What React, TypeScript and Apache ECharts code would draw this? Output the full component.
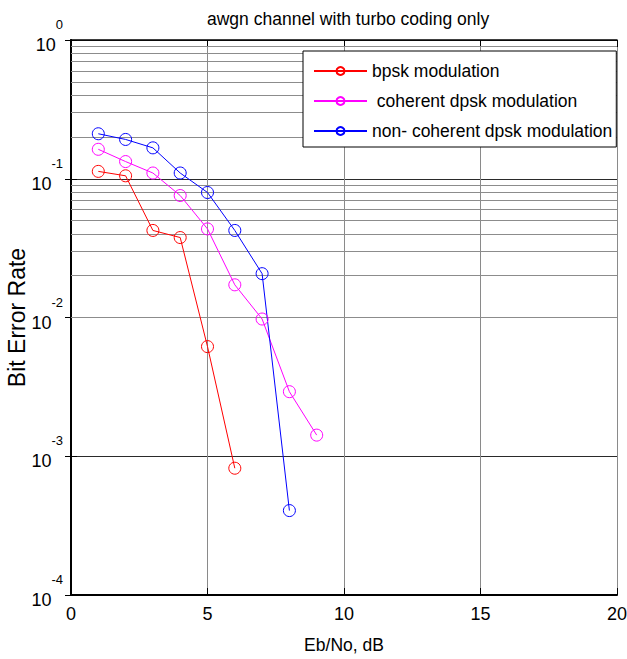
import React, { useEffect, useRef } from "react";
import * as echarts from "echarts";

// ---- data ----
const ebNo = [1, 2, 3, 4, 5, 6, 7, 8, 9];
const bpsk = [0.113, 0.105, 0.0424, 0.0377, 0.00617, 0.00082];
const coherentDpsk = [0.163, 0.133, 0.11, 0.0757, 0.0435, 0.0172, 0.00975, 0.00292, 0.00142];
const nonCoherentDpsk = [0.211, 0.192, 0.167, 0.11, 0.0796, 0.0424, 0.0207, 0.000406];
const seriesNames = ["bpsk modulation", " coherent dpsk modulation", "non- coherent dpsk modulation"];
const seriesColors = ["#ff0000", "#ff00ff", "#0000ff"];
const minorMantissas = [2, 3, 4, 5, 6, 7, 8, 9];
const minorDecades = [-4, -3, -2, -1];
const titleText = "awgn channel with turbo coding only";
const xName = "Eb/No, dB";
const yName = "Bit Error Rate";

const FONT = "Liberation Sans, Arial, sans-serif";

export default function App() {
  const ref = useRef<HTMLDivElement>(null);
  useEffect(() => {
    const chart = echarts.init(ref.current!, null, { renderer: "svg" });
    const allSeries = [bpsk, coherentDpsk, nonCoherentDpsk];
    const minorLines: any[] = [];
    minorDecades.forEach((e) =>
      minorMantissas.forEach((m) => minorLines.push({ yAxis: m * Math.pow(10, e) }))
    );
    const option: any = {
      animation: false,
      backgroundColor: "#fff",
      textStyle: { fontFamily: FONT },
      title: {
        text: titleText,
        left: 202,
        top: 5,
        textStyle: { fontFamily: FONT, fontSize: 17.5, fontWeight: "normal", color: "#000" },
      },
      grid: { left: 71, right: 10, top: 40, bottom: 64, containLabel: false, outerBoundsMode: "none" },
      legend: {
        data: seriesNames,
        orient: "vertical",
        left: 303,
        top: 51,
        padding: [11, 4, 7, 10],
        itemGap: 12,
        itemWidth: 53,
        itemHeight: 10,
        borderColor: "#000",
        borderWidth: 1,
        backgroundColor: "#fff",
        textStyle: { fontFamily: FONT, fontSize: 17.5, color: "#000" },
      },
      xAxis: [
        {
          type: "value",
          min: 0,
          max: 20,
          interval: 5,
          name: xName,
          nameLocation: "middle",
          nameGap: 41,
          nameMoveOverlap: false,
          nameTextStyle: { fontFamily: FONT, fontSize: 17.5, color: "#000" },
          axisLine: { show: true, lineStyle: { color: "#000", width: 2 } },
          axisTick: { show: true, inside: true, length: 7, lineStyle: { color: "#000" } },
          axisLabel: { fontFamily: FONT, fontSize: 18, color: "#000", margin: 10 },
          splitLine: { show: true, lineStyle: { color: "#8a8a8a", width: 1 } },
        },
        {
          type: "value",
          min: 0,
          max: 20,
          interval: 5,
          position: "top",
          axisLine: { show: true, onZero: false, lineStyle: { color: "#000", width: 1.5 } },
          axisTick: { show: true, inside: true, length: 7, lineStyle: { color: "#000" } },
          axisLabel: { show: false },
          splitLine: { show: false },
        },
      ],
      yAxis: [
        {
          type: "log",
          logBase: 10,
          min: 1e-4,
          max: 1,
          name: yName,
          nameLocation: "middle",
          nameGap: 43,
          nameMoveOverlap: false,
          nameTextStyle: { fontFamily: FONT, fontSize: 23, color: "#000" },
          axisLine: { show: true, lineStyle: { color: "#000", width: 2 } },
          axisTick: { show: true, inside: true, length: 6, lineStyle: { color: "#000" } },
          axisLabel: {
            margin: 8,
            padding: [0, 0, 8, 0],
            formatter: (v: number) => `{b|10}{s|${Math.round(Math.log10(v))}}`,
            rich: {
              b: { fontFamily: FONT, fontSize: 18, color: "#000", lineHeight: 36, verticalAlign: "bottom" },
              s: { fontFamily: FONT, fontSize: 13, color: "#000", lineHeight: 14, padding: [0, 0, 24, 0], verticalAlign: "top" },
            },
          },
          splitLine: { show: true, lineStyle: { color: "#2a2a2a", width: 1 } },
        },
        {
          type: "log",
          logBase: 10,
          min: 1e-4,
          max: 1,
          position: "right",
          axisLine: { show: true, lineStyle: { color: "#000", width: 1.5 } },
          axisTick: { show: true, inside: true, length: 6, lineStyle: { color: "#000" } },
          axisLabel: { show: false },
          splitLine: { show: false },
        },
      ],
      series: [
        {
          type: "line",
          name: "minor-grid",
          data: [],
          silent: true,
          markLine: {
            silent: true,
            z: 1,
            symbol: ["none", "none"],
            label: { show: false },
            lineStyle: { color: "#8c8c8c", width: 1, type: "solid" },
            emphasis: { disabled: true },
            data: minorLines,
          },
        },
        ...allSeries.map((vals, i) => ({
          type: "line",
          name: seriesNames[i],
          data: vals.map((v, j) => [ebNo[j], v]),
          symbol: "circle",
          symbolSize: 12,
          z: 3,
          lineStyle: { color: seriesColors[i], width: 1 },
          itemStyle: { color: "rgba(255,255,255,0)", borderColor: seriesColors[i], borderWidth: 1 },
          emphasis: { disabled: true },
        })),
      ],
    };
    chart.setOption(option);
    return () => chart.dispose();
  }, []);
  return (
    <div
      ref={ref}
      style={{ position: "fixed", left: 0, top: 0, width: 627, height: 659, background: "#fff" }}
    />
  );
}
